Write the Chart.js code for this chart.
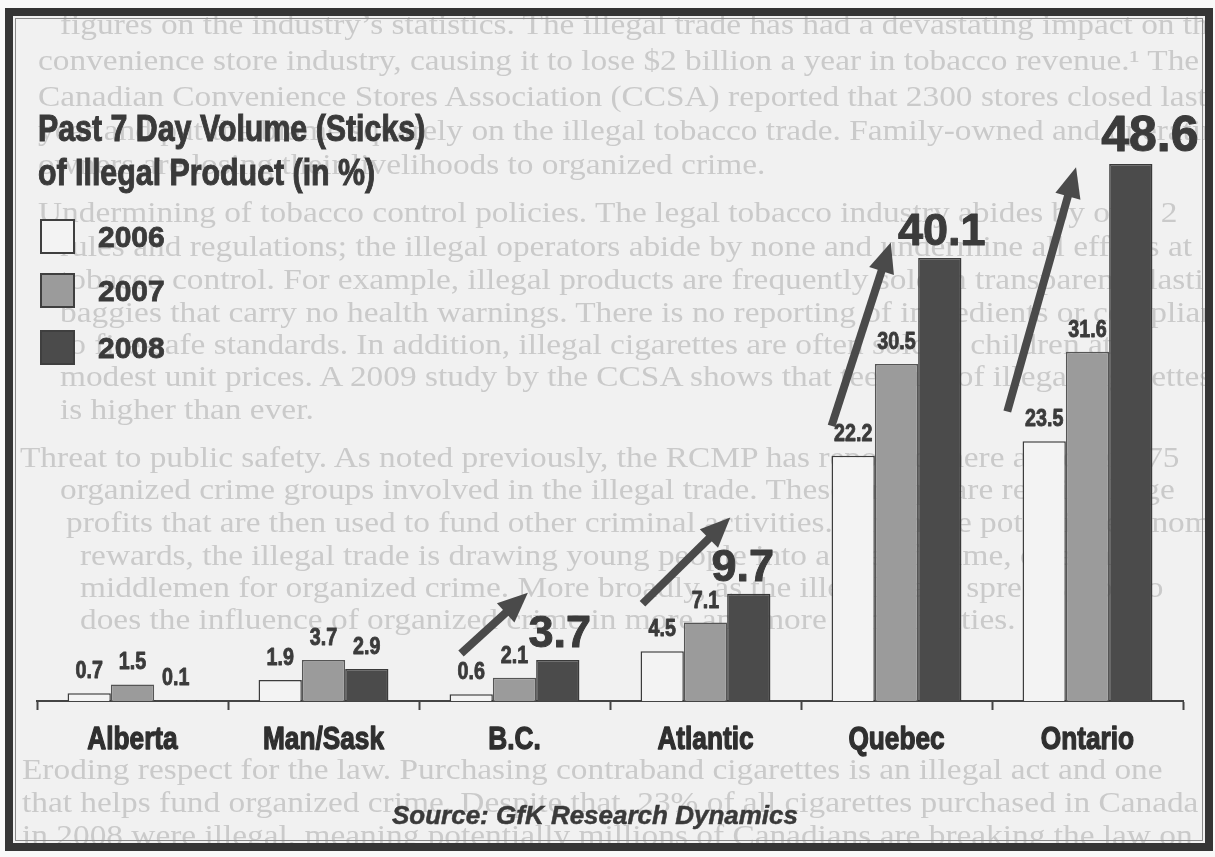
<!DOCTYPE html>
<html><head><meta charset="utf-8">
<script src="https://cdn.jsdelivr.net/npm/chart.js@4.4.1/dist/chart.umd.min.js"></script>
<style>
html,body{margin:0;padding:0;background:#f9f9f9;}
#page{position:relative;width:1215px;height:857px;overflow:hidden;background:#f9f9f9;}
#paper{position:absolute;left:5px;top:8px;width:1208px;height:843px;background:#f1f1f1;overflow:hidden;}
#bleed{position:absolute;left:0;top:0;width:1208px;height:843px;font-family:"Liberation Serif","Times New Roman",serif;font-size:29px;color:#cacaca;white-space:nowrap;filter:blur(0.4px);}
#bleed div{position:absolute;transform:scaleX(1.15);transform-origin:left top;}
#chart{position:absolute;left:0;top:0;}
#title{position:absolute;left:38px;top:107px;font-weight:bold;font-size:37px;line-height:44px;color:#3a3a3a;white-space:nowrap;-webkit-text-stroke:1px #3a3a3a;}
#legend{position:absolute;left:0;top:0;}
.lg-box{position:absolute;left:40px;width:31px;height:31px;border:2px solid #3f3f3f;}
.lg-txt{position:absolute;left:98px;font:bold 30px "Liberation Sans",Arial,sans-serif;color:#3a3a3a;line-height:30px;-webkit-text-stroke:0.8px #3a3a3a;}
#source{position:absolute;left:0;width:1190px;top:800px;text-align:center;font:italic bold 26px "Liberation Sans",Arial,sans-serif;color:#3a3a3a;-webkit-text-stroke:0.5px #3a3a3a;}
#frame{position:absolute;left:5px;top:8px;width:1208px;height:843px;box-sizing:border-box;border:8px solid #353535;pointer-events:none;}
#frame2{position:absolute;left:15px;top:18px;width:1188px;height:823px;box-sizing:border-box;border:1px solid #8a8a8a;pointer-events:none;}
</style></head>
<body>
<div id="page">
  <div id="paper"><div id="bleed"></div></div>
  <canvas id="chart" width="1215" height="857"></canvas>
  <div id="title"></div>
  <div id="legend"></div>
  <div id="source">Source: GfK Research Dynamics</div>
  <div id="frame"></div>
  <div id="frame2"></div>
</div>
<script>
// ---------------- data ----------------
const categories = ['Alberta', 'Man/Sask', 'B.C.', 'Atlantic', 'Quebec', 'Ontario'];
const seriesNames = ['2006', '2007', '2008'];
const values2006 = [0.7, 1.9, 0.6, 4.5, 22.2, 23.5];
const values2007 = [1.5, 3.7, 2.1, 7.1, 30.5, 31.6];
const values2008 = [0.1, 2.9, 3.7, 9.7, 40.1, 48.6];
// which 2008 values are emphasised with a large label
const emphasised2008 = [false, false, true, true, true, true];
// growth arrows: [category position, value] from tail to head
const arrows = [
  { from: [1.72, 4.3], to: [2.07, 9.8] },
  { from: [2.67, 8.8], to: [3.13, 16.6] },
  { from: [3.66, 24.9], to: [3.97, 41.5] },
  { from: [4.58, 26.2], to: [4.94, 48.3] }
];
const titleLines = ['Past 7 Day Volume (Sticks)', 'of Illegal Product (in %)'];
const bleedLines = [
  [8, 60, 'figures on the industry\u2019s statistics.  The illegal trade has had a devastating impact on the'],
  [44, 38, 'convenience store industry, causing it to lose $2 billion a year in tobacco revenue.\u00b9  The'],
  [80, 38, 'Canadian Convenience Stores Association (CCSA) reported that 2300 stores closed last'],
  [114, 38, 'year and put the blame squarely on the illegal tobacco trade.  Family-owned and operating'],
  [148, 38, 'owners are losing their livelihoods to organized crime.'],
  [196, 38, 'Undermining of tobacco control policies.  The legal tobacco industry abides by over 2'],
  [230, 60, 'rules and regulations; the illegal operators abide by none and undermine all efforts at'],
  [263, 60, 'tobacco control.  For example, illegal products are frequently sold in transparent plastic'],
  [296, 60, 'baggies that carry no health warnings.  There is no reporting of ingredients or compliance'],
  [328, 60, 'to fire-safe standards.  In addition, illegal cigarettes are often sold to children at'],
  [360, 60, 'modest unit prices.  A 2009 study by the CCSA shows that teen use of illegal cigarettes'],
  [393, 60, 'is higher than ever.'],
  [441, 20, 'Threat to public safety.  As noted previously, the RCMP has reported there are over 175'],
  [473, 60, 'organized crime groups involved in the illegal trade.  These groups are reaping huge'],
  [506, 66, 'profits that are then used to fund other criminal activities.  Given the potential economic'],
  [539, 80, 'rewards, the illegal trade is drawing young people into a life of crime, often as'],
  [571, 80, 'middlemen for organized crime.  More broadly, as the illegal trade spreads, so too'],
  [603, 80, 'does the influence of organized crime in more and more communities.'],
  [753, 22, 'Eroding respect for the law.  Purchasing contraband cigarettes is an illegal act and one'],
  [786, 22, 'that helps fund organized crime.  Despite that, 23% of all cigarettes purchased in Canada'],
  [819, 22, 'in 2008 were illegal, meaning potentially millions of Canadians are breaking the law on']
];
const seriesFill = ['#f3f3f3', '#9b9b9b', '#4b4b4b'];
const seriesBorder = ['#3c3c3c', '#555555', '#3a3a3a'];

// ------------- font detection -------------
function hasFont(name) {
  const c = document.createElement('canvas').getContext('2d');
  const s = 'mmmmmmmwwwwwlliiI0123456789';
  const res = ['monospace', 'serif'].map(b => {
    c.font = 'bold 40px ' + b; const w0 = c.measureText(s).width;
    c.font = 'bold 40px "' + name + '", ' + b; const w1 = c.measureText(s).width;
    return w0 !== w1;
  });
  return res[0] || res[1];
}
const narrowCandidates = ['Liberation Sans Narrow', 'Arial Narrow', 'Nimbus Sans Narrow', 'Helvetica Narrow'];
let NARROW = null;
for (const n of narrowCandidates) { if (hasFont(n)) { NARROW = n; break; } }
const BASE = '"Liberation Sans", Arial, sans-serif';
const narrowFam = NARROW ? '"' + NARROW + '", ' + BASE : BASE;
const condensed = !!NARROW;
const SQUEEZE = condensed ? 1 : 0.82;

// draw heavy, horizontally squeezed text
function heavyText(ctx, txt, x, y, size, family, squeeze, stroke) {
  ctx.save();
  ctx.font = 'bold ' + size + 'px ' + family;
  ctx.translate(x, y); ctx.scale(squeeze, 1);
  ctx.fillText(txt, 0, 0);
  if (stroke) { ctx.lineWidth = stroke; ctx.strokeStyle = ctx.fillStyle; ctx.lineJoin = 'round'; ctx.strokeText(txt, 0, 0); }
  ctx.restore();
}

// ------------- HTML parts -------------
const bleed = document.getElementById('bleed');
bleedLines.forEach(([y, x, t]) => {
  const d = document.createElement('div');
  d.style.top = (y - 8) + 'px'; d.style.left = (x - 5) + 'px'; d.textContent = t;
  bleed.appendChild(d);
});
const titleEl = document.getElementById('title');
titleEl.style.fontFamily = narrowFam;
if (!condensed) { titleEl.style.transform = 'scaleX(0.82)'; titleEl.style.transformOrigin = 'left top'; }
titleEl.innerHTML = titleLines.map(l => '<div>' + l + '</div>').join('');
const legendEl = document.getElementById('legend');
const boxTops = [219, 273, 330];
seriesNames.forEach((n, i) => {
  const b = document.createElement('div'); b.className = 'lg-box';
  b.style.top = boxTops[i] + 'px'; b.style.background = seriesFill[i];
  legendEl.appendChild(b);
  const t = document.createElement('div'); t.className = 'lg-txt';
  t.style.top = (boxTops[i] + 3) + 'px'; t.textContent = n;
  legendEl.appendChild(t);
});

// ------------- plugins -------------
const categoryLabels = {
  id: 'categoryLabels',
  afterDraw(chart) {
    const ctx = chart.ctx, xs = chart.scales.x;
    ctx.save();
    ctx.fillStyle = '#2f2f2f'; ctx.textAlign = 'center'; ctx.textBaseline = 'alphabetic';
    xs.ticks.forEach((t, i) => {
      heavyText(ctx, xs.getLabelForValue(t.value), xs.getPixelForValue(t.value), 749, 32, narrowFam, SQUEEZE, 1.3);
    });
    ctx.restore();
  }
};
const valueLabels = {
  id: 'valueLabels',
  afterDatasetsDraw(chart) {
    const ctx = chart.ctx;
    chart.data.datasets.forEach((ds, di) => {
      const meta = chart.getDatasetMeta(di);
      meta.data.forEach((bar, i) => {
        const big = di === 2 && emphasised2008[i];
        ctx.save();
        ctx.fillStyle = '#3b3b3b';
        ctx.textAlign = 'center';
        ctx.textBaseline = 'alphabetic';
        const txt = ds.data[i].toFixed(1);
        if (big) {
          const size = i === 5 ? 50 : 45;
          heavyText(ctx, txt, bar.x + (i === 5 ? 19 : (i === 3 ? -6 : 2)), bar.y - 13, size, BASE, 1, 1);
        } else {
          heavyText(ctx, txt, bar.x, bar.y - 15, 24, narrowFam, SQUEEZE, 0.9);
        }
        ctx.restore();
      });
    });
  }
};
const growthArrows = {
  id: 'growthArrows',
  afterDatasetsDraw(chart) {
    const ctx = chart.ctx, xs = chart.scales.x, ys = chart.scales.y;
    arrows.forEach(a => {
      const x1 = xs.getPixelForValue(a.from[0]), y1 = ys.getPixelForValue(a.from[1]);
      const x2 = xs.getPixelForValue(a.to[0]), y2 = ys.getPixelForValue(a.to[1]);
      const ang = Math.atan2(y2 - y1, x2 - x1);
      const hl = 30, hw = 13;
      const bx = x2 - hl * Math.cos(ang), by = y2 - hl * Math.sin(ang);
      ctx.save();
      ctx.strokeStyle = '#4a4a4a'; ctx.fillStyle = '#4a4a4a';
      ctx.lineWidth = 8; ctx.lineCap = 'butt';
      ctx.beginPath(); ctx.moveTo(x1, y1); ctx.lineTo(bx + 2 * Math.cos(ang), by + 2 * Math.sin(ang)); ctx.stroke();
      ctx.beginPath();
      ctx.moveTo(x2, y2);
      ctx.lineTo(bx + hw * Math.sin(ang), by - hw * Math.cos(ang));
      ctx.lineTo(bx - hw * Math.sin(ang), by + hw * Math.cos(ang));
      ctx.closePath(); ctx.fill();
      ctx.restore();
    });
  }
};

// ------------- chart -------------
const datasets = [values2006, values2007, values2008].map((vals, i) => ({
  label: seriesNames[i],
  data: vals,
  backgroundColor: seriesFill[i],
  borderColor: seriesBorder[i],
  borderWidth: 1.5,
  categoryPercentage: 0.68,
  barPercentage: 1.0
}));

new Chart(document.getElementById('chart'), {
  type: 'bar',
  data: { labels: categories, datasets },
  options: {
    responsive: false,
    devicePixelRatio: 1,
    animation: false,
    layout: { padding: { left: 37, right: 32, top: 38, bottom: 0 } },
    plugins: { legend: { display: false }, title: { display: false }, tooltip: { enabled: false } },
    scales: {
      x: {
        offset: true,
        grid: { display: true, drawOnChartArea: false, drawTicks: true, tickLength: 9, tickColor: '#444', tickWidth: 2, offset: true },
        border: { display: true, color: '#444', width: 2 },
        ticks: { display: false },
        afterFit(axis) { axis.height = 156; }
      },
      y: { display: false, min: 0, max: 60 }
    }
  },
  plugins: [growthArrows, valueLabels, categoryLabels]
});
</script>
</body></html>
